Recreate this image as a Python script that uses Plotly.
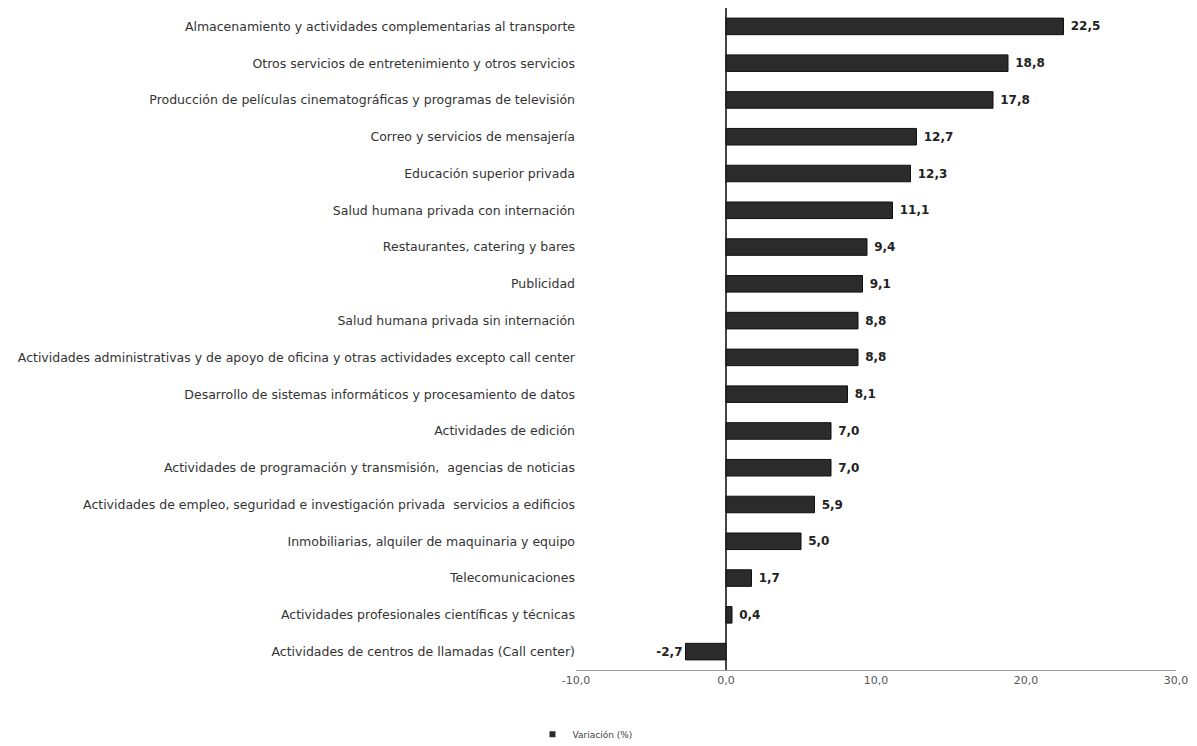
import plotly.graph_objects as go

categories = [
    "Almacenamiento y actividades complementarias al transporte",
    "Otros servicios de entretenimiento y otros servicios",
    "Producción de películas cinematográficas y programas de televisión",
    "Correo y servicios de mensajería",
    "Educación superior privada",
    "Salud humana privada con internación",
    "Restaurantes, catering y bares",
    "Publicidad",
    "Salud humana privada sin internación",
    "Actividades administrativas y de apoyo de oficina y otras actividades excepto call center",
    "Desarrollo de sistemas informáticos y procesamiento de datos",
    "Actividades de edición",
    "Actividades de programación y transmisión,  agencias de noticias",
    "Actividades de empleo, seguridad e investigación privada  servicios a edificios",
    "Inmobiliarias, alquiler de maquinaria y equipo",
    "Telecomunicaciones",
    "Actividades profesionales científicas y técnicas",
    "Actividades de centros de llamadas (Call center)",
]
values = [22.5, 18.8, 17.8, 12.7, 12.3, 11.1, 9.4, 9.1, 8.8, 8.8, 8.1, 7.0, 7.0, 5.9, 5.0, 1.7, 0.4, -2.7]
x_ticks = [-10, 0, 10, 20, 30]
x_tick_labels = ["-10,0", "0,0", "10,0", "20,0", "30,0"]
series_name = "Variación (%)"

BAR_COLOR = "#2b2b2b"

fig = go.Figure()
fig.add_trace(go.Bar(
    y=categories,
    x=values,
    orientation="h",
    name=series_name,
    marker=dict(color=BAR_COLOR, line=dict(color="#111111", width=1)),
    texttemplate=" %{x:.1f}",
    textposition="outside",
    cliponaxis=False,
    textfont=dict(family="DejaVu Sans", size=12, color="#222222", weight="bold"),
    showlegend=False,
))
# legend entry with a small square swatch, as in the reference
fig.add_trace(go.Scatter(
    x=[None], y=[None], mode="markers", name=series_name,
    marker=dict(symbol="square", size=6, color=BAR_COLOR),
    showlegend=True, hoverinfo="skip",
))

fig.update_layout(
    width=1197, height=746,
    paper_bgcolor="white", plot_bgcolor="white",
    separators=",.",
    margin=dict(l=568, r=29, t=0, b=84, autoexpand=False),
    bargap=0.55,
    font=dict(family="DejaVu Sans", size=11, color="#333333"),
    xaxis=dict(
        range=[-10, 30], tickvals=x_ticks, ticktext=x_tick_labels,
        showgrid=False, zeroline=True, zerolinecolor="#444444", zerolinewidth=1.5,
        showline=True, linecolor="#999999", linewidth=1,
        tickfont=dict(size=11, color="#555555"), ticks="",
    ),
    yaxis=dict(
        autorange="reversed", showgrid=False, showline=False, ticks="",
        tickfont=dict(family="DejaVu Sans", size=12.5, color="#333333"), automargin=False,
        ticklabelstandoff=0,
    ),
    legend=dict(
        orientation="h", x=0.015, y=-0.075, xanchor="center", yanchor="top",
        font=dict(size=9, color="#444444"), itemwidth=30,
    ),
)

fig.write_html("out.html")
